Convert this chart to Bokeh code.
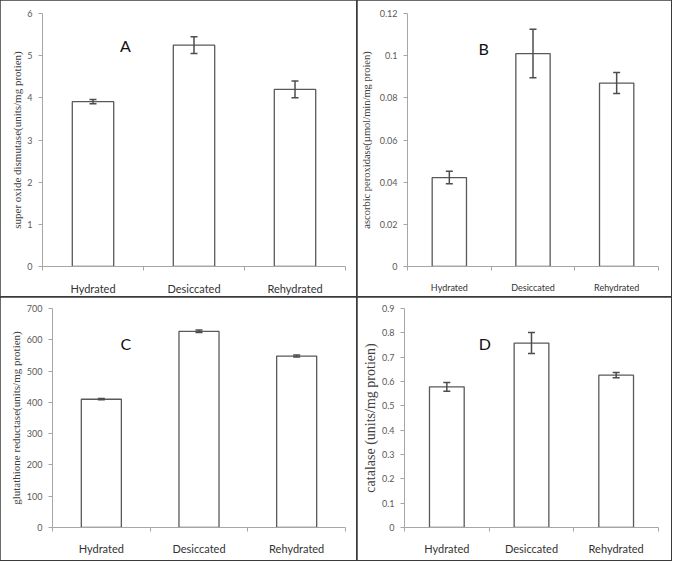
import numpy as np
from bokeh.plotting import figure
from bokeh.layouts import column, row
from bokeh.models import (ColumnDataSource, Whisker, TeeHead, FixedTicker, Label, Range1d)
from bokeh.embed import file_html
from bokeh.resources import INLINE

# ---------------- data ----------------
categories = ["Hydrated", "Desiccated", "Rehydrated"]

sod_values = [3.91, 5.25, 4.20]
sod_errors = [0.05, 0.20, 0.20]
sod_ticks = [0, 1, 2, 3, 4, 5, 6]

apx_values = [0.0422, 0.101, 0.087]
apx_errors = [0.003, 0.0115, 0.005]
apx_ticks = [0, 0.02, 0.04, 0.06, 0.08, 0.1, 0.12]

gr_values = [410, 627, 548]
gr_errors = [2, 4, 3]
gr_ticks = [0, 100, 200, 300, 400, 500, 600, 700]

cat_values = [0.578, 0.758, 0.626]
cat_errors = [0.018, 0.043, 0.011]
cat_ticks = [0, 0.1, 0.2, 0.3, 0.4, 0.5, 0.6, 0.7, 0.8, 0.9]

AXIS_GREY = "#a6a6a6"
TEXT_GREY = "#595959"
BAR_LINE = "#595959"
ERR_LINE = "#4d4d4d"


def panel(values, errors, ticks, ylabel, letter, letter_xy, *, width, height,
          border, xlabel_size, xlabel_standoff, ylabel_size, ylabel_standoff):
    n = len(categories)
    x_pos = list(np.arange(n) + 0.5)
    p = figure(width=width, height=height, output_backend="svg", toolbar_location=None,
               x_range=Range1d(0, n), y_range=Range1d(0, ticks[-1]),
               min_border_left=border[0], min_border_right=border[1],
               min_border_top=border[2], min_border_bottom=border[3],
               styles={"outline": "2px solid #3a3a3a", "outline-offset": "-1px"})
    p.outline_line_color = None
    p.grid.visible = False
    p.background_fill_color = "white"
    p.border_fill_color = "white"

    src = ColumnDataSource(dict(x=x_pos, top=values,
                                upper=[v + e for v, e in zip(values, errors)],
                                lower=[v - e for v, e in zip(values, errors)]))
    p.vbar(x="x", top="top", width=0.41, bottom=0, source=src,
           fill_color="white", line_color=BAR_LINE, line_width=1.3)
    p.add_layout(Whisker(base="x", upper="upper", lower="lower", source=src,
                         level="overlay",
                         line_color=ERR_LINE, line_width=1.5,
                         upper_head=TeeHead(size=7, line_color=ERR_LINE, line_width=1.5),
                         lower_head=TeeHead(size=7, line_color=ERR_LINE, line_width=1.5)))

    # x axis: labels at centres, tick marks at category boundaries
    xa = p.xaxis[0]
    xa.ticker = FixedTicker(ticks=x_pos, minor_ticks=list(range(n + 1)))
    xa.major_label_overrides = {x: c for x, c in zip(x_pos, categories)}
    xa.major_tick_line_color = None
    xa.major_tick_out = 0
    xa.minor_tick_out = 4
    xa.minor_tick_in = 0
    xa.minor_tick_line_color = AXIS_GREY
    xa.axis_line_color = AXIS_GREY
    xa.major_label_text_font = "Lato"
    xa.major_label_text_font_size = xlabel_size
    xa.major_label_text_color = "#333333"
    xa.major_label_standoff = xlabel_standoff

    ya = p.yaxis[0]
    ya.ticker = FixedTicker(ticks=ticks, minor_ticks=[])
    ya.major_label_overrides = {t: ("%g" % t) for t in ticks}
    ya.axis_line_color = AXIS_GREY
    ya.major_tick_line_color = AXIS_GREY
    ya.major_tick_out = 4
    ya.major_tick_in = 0
    ya.minor_tick_line_color = None
    ya.major_label_text_font = "Lato"
    ya.major_label_text_font_size = "9px"
    ya.major_label_text_color = TEXT_GREY
    ya.major_label_standoff = 6
    ya.axis_label = ylabel
    ya.axis_label_text_font = "Liberation Serif"
    ya.axis_label_text_font_style = "normal"
    ya.axis_label_text_font_size = ylabel_size
    ya.axis_label_text_color = "#404040"
    ya.axis_label_standoff = ylabel_standoff

    p.add_layout(Label(x=letter_xy[0], y=letter_xy[1], text=letter,
                       text_font="Lato", text_font_size="16px", text_color="#111111",
                       text_align="center", text_baseline="middle"))
    return p


pA = panel(sod_values, sod_errors, sod_ticks,
           "super oxide dismutase(units/mg protien)", "A", (0.82, 5.24),
           width=357, height=297, border=(42, 12, 13, 30),
           xlabel_size="11px", xlabel_standoff=11, ylabel_size="11px", ylabel_standoff=1)
pB = panel(apx_values, apx_errors, apx_ticks,
           "ascorbic peroxidase(µmol/min/mg proien)", "B", (0.91, 0.1034),
           width=314, height=297, border=(50, 13, 13, 27),
           xlabel_size="9px", xlabel_standoff=11, ylabel_size="10.5px", ylabel_standoff=5)
pC = panel(gr_values, gr_errors, gr_ticks,
           "glutathione reductase(units/mg protien)", "C", (0.75, 589),
           width=357, height=263, border=(52, 12, 11, 33),
           xlabel_size="11px", xlabel_standoff=10, ylabel_size="11px", ylabel_standoff=2)
pD = panel(cat_values, cat_errors, cat_ticks,
           "catalase (units/mg protien)", "D", (0.95, 0.757),
           width=314, height=263, border=(47, 13, 11, 33),
           xlabel_size="11px", xlabel_standoff=10, ylabel_size="14px", ylabel_standoff=1)

layout = column(row(pA, pB), row(pC, pD))
open("out.html", "w").write(file_html(layout, INLINE))
